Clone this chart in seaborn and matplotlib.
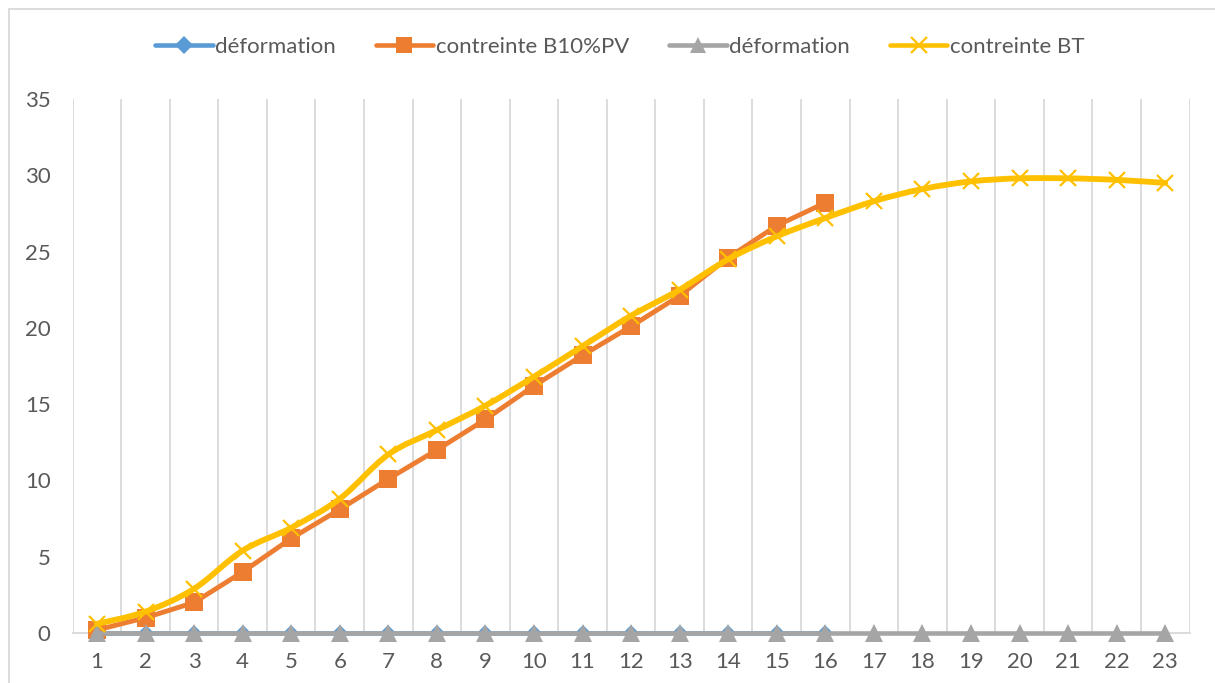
import numpy as np
import matplotlib
matplotlib.use("Agg")
import matplotlib.pyplot as plt
from matplotlib.path import Path
from matplotlib.patches import PathPatch, Rectangle
from matplotlib.lines import Line2D
import seaborn as sns

# Test B10%PV (16 load steps)
steps_b10 = [1, 2, 3, 4, 5, 6, 7, 8, 9, 10, 11, 12, 13, 14, 15, 16]
deformation_b10 = [0, 0, 0, 0, 0, 0, 0, 0, 0, 0, 0, 0, 0, 0, 0, 0]
contrainte_b10 = [0.2, 1.0, 2.0, 4.0, 6.2, 8.1, 10.1, 12.0, 14.0, 16.2,
                  18.2, 20.1, 22.1, 24.6, 26.7, 28.2]

# Test BT (23 load steps)
steps_bt = [1, 2, 3, 4, 5, 6, 7, 8, 9, 10, 11, 12, 13, 14, 15, 16,
            17, 18, 19, 20, 21, 22, 23]
deformation_bt = [0, 0, 0, 0, 0, 0, 0, 0, 0, 0, 0, 0, 0, 0, 0, 0,
                  0, 0, 0, 0, 0, 0, 0]
contrainte_bt = [0.6, 1.4, 2.9, 5.4, 6.9, 8.8, 11.7, 13.3, 14.9, 16.8,
                 18.8, 20.8, 22.5, 24.5, 26.0, 27.2, 28.3, 29.1, 29.6,
                 29.8, 29.8, 29.7, 29.5]

series_labels = ["déformation", "contreinte B10%PV", "déformation", "contreinte BT"]
y_ticks = [0, 5, 10, 15, 20, 25, 30, 35]

BLUE = "#5B9BD5"
ORANGE = "#ED7D31"
GREY = "#A5A5A5"
YELLOW = "#FFC000"
TEXT = "#595959"
GRID = "#D9D9D9"

sns.set_theme(style="white")
plt.rcParams["font.family"] = ["Lato", "DejaVu Sans"]

W, H = 1215, 683
fig = plt.figure(figsize=(W / 100, H / 100), dpi=100)
fig.patch.set_facecolor("white")

# light frame around the chart area
fig.patches.append(Rectangle((9 / W, -0.02), 1.1, 1 - 9 / H + 0.02,
                             transform=fig.transFigure, fill=False,
                             edgecolor=GRID, linewidth=1.3, zorder=0))

ax = fig.add_axes([72.7 / W, 50 / H, (1189.5 - 72.7) / W, (633 - 99) / H])


def smooth_path(xs, ys):
    """Cubic Bezier path through the points (Catmull-Rom style smoothing)."""
    pts = np.column_stack([xs, ys]).astype(float)
    n = len(pts)
    verts = [pts[0]]
    codes = [Path.MOVETO]
    for i in range(n - 1):
        p0 = pts[i - 1] if i > 0 else pts[i]
        p1 = pts[i]
        p2 = pts[i + 1]
        p3 = pts[i + 2] if i + 2 < n else pts[i + 1]
        verts += [p1 + (p2 - p0) / 6, p2 - (p3 - p1) / 6, p2]
        codes += [Path.CURVE4] * 3
    return Path(verts, codes)


# déformation (B10%PV)
sns.lineplot(x=steps_b10, y=deformation_b10, ax=ax, color=BLUE, linewidth=3.3,
             marker="D", markersize=8.5, markeredgecolor=BLUE, markeredgewidth=0,
             clip_on=False, zorder=3)
# contreinte B10%PV
sns.lineplot(x=steps_b10, y=contrainte_b10, ax=ax, color=ORANGE, linewidth=3.5,
             marker="s", markersize=12.5, markeredgecolor=ORANGE, markeredgewidth=0,
             clip_on=False, zorder=4)
# déformation (BT)
sns.lineplot(x=steps_bt, y=deformation_bt, ax=ax, color=GREY, linewidth=3.3,
             marker="^", markersize=12.5, markeredgecolor=GREY, markeredgewidth=0,
             clip_on=False, zorder=5)
# contreinte BT, smoothed line
ax.add_patch(PathPatch(smooth_path(steps_bt, contrainte_bt), fill=False,
                       edgecolor=YELLOW, linewidth=4.2, capstyle="round",
                       joinstyle="round", zorder=6))
sns.lineplot(x=steps_bt, y=contrainte_bt, ax=ax, color=YELLOW, linestyle="none",
             marker="x", markersize=12, markeredgecolor=YELLOW, markeredgewidth=1.6,
             clip_on=False, zorder=7)

ax.set_xlim(0.5, 23.5)
ax.set_ylim(0, 35)
ax.set_xticks(steps_bt)
ax.set_xticklabels([str(s) for s in steps_bt])
ax.set_xticks(np.arange(0.5, 24.0, 1.0), minor=True)
ax.set_yticks(y_ticks)
ax.set_yticklabels([str(v) for v in y_ticks])
ax.set_xlabel("")
ax.set_ylabel("")

ax.grid(False)
ax.grid(True, axis="x", which="minor", color=GRID, linewidth=1.3)
for gl in ax.xaxis.get_minorticklines():
    gl.set_visible(False)

for side in ("left", "right", "top"):
    ax.spines[side].set_visible(False)
ax.spines["bottom"].set_color(GRID)
ax.spines["bottom"].set_linewidth(1.3)

ax.tick_params(axis="x", which="both", length=0, pad=14, labelsize=16, labelcolor=TEXT)
ax.tick_params(axis="y", which="both", length=0, pad=16, labelsize=16, labelcolor=TEXT)

handles = [
    Line2D([], [], color=BLUE, linewidth=3.3, marker="D", markersize=9, markeredgewidth=0),
    Line2D([], [], color=ORANGE, linewidth=3.3, marker="s", markersize=12, markeredgewidth=0),
    Line2D([], [], color=GREY, linewidth=3.3, marker="^", markersize=12, markeredgewidth=0),
    Line2D([], [], color=YELLOW, linewidth=3.3, marker="x", markersize=11,
           markeredgewidth=1.6, markeredgecolor=YELLOW),
]
leg = fig.legend(handles, series_labels, loc="center",
                 bbox_to_anchor=(0.5 + 12 / W, 1 - 47 / H),
                 ncol=4, frameon=False, fontsize=16, handlelength=2.6,
                 handletextpad=0.1, columnspacing=1.8)
for t in leg.get_texts():
    t.set_color(TEXT)

fig.savefig("out.png", dpi=100, facecolor="white")
